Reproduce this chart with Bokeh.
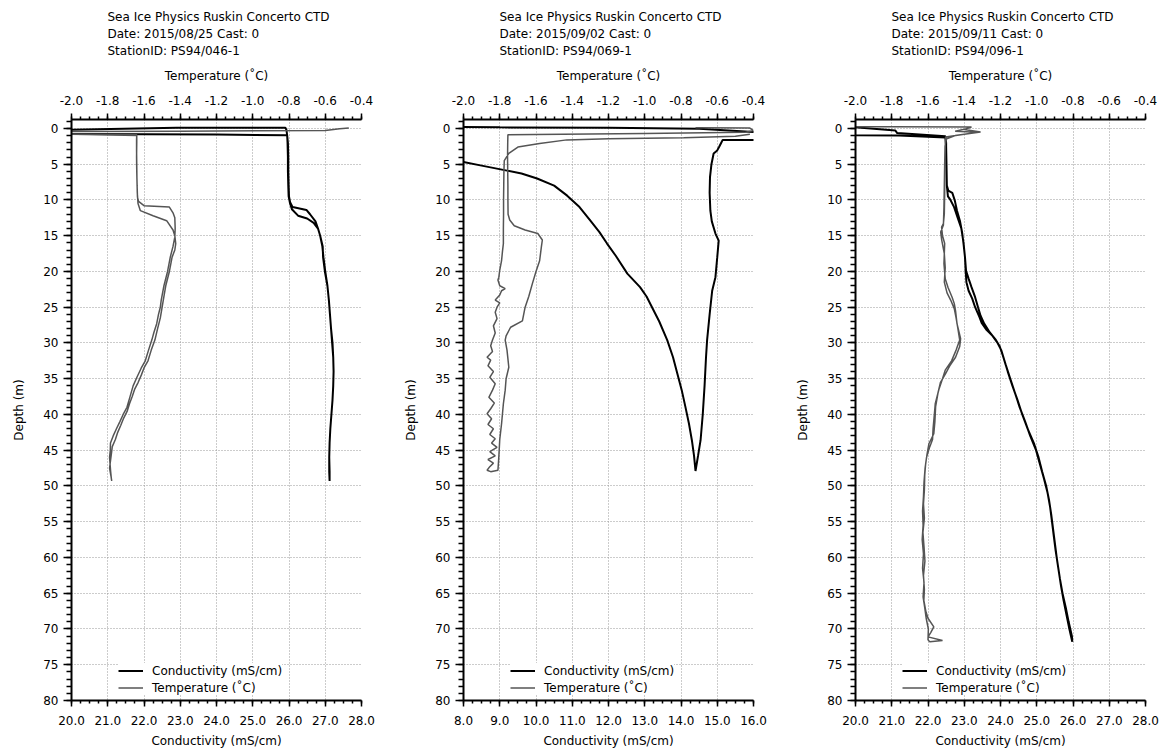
from bokeh.plotting import figure
from bokeh.models import (Range1d, LinearAxis, SingleIntervalTicker, PrintfTickFormatter,
                          Title)
from bokeh.layouts import row
from bokeh.embed import file_html
from bokeh.resources import INLINE

FONT = "DejaVu Sans"

# ---------------- data ----------------
title_line1 = "Sea Ice Physics Ruskin Concerto CTD"
p1_date = "Date: 2015/08/25 Cast: 0"
p1_station = "StationID: PS94/046-1"
p2_date = "Date: 2015/09/02 Cast: 0"
p2_station = "StationID: PS94/069-1"
p3_date = "Date: 2015/09/11 Cast: 0"
p3_station = "StationID: PS94/096-1"

temp_label = "Temperature (\u02daC)"
cond_label = "Conductivity (mS/cm)"
depth_label = "Depth (m)"

p1_cond_range = (20.0, 28.0)
p2_cond_range = (8.0, 16.0)
p3_cond_range = (20.0, 28.0)
temp_range = (-2.0, -0.4)
depth_range = (80.0, -1.25)

# Panel 1 (PS94/046-1)
p1_cond = [19.0, 24.0, 25.95, 25.97, 25.98, 25.98, 25.99, 26.00, 26.03, 26.10, 26.48, 26.58, 26.73, 26.80,
           26.86, 26.92, 26.95, 27.00, 27.06, 27.10, 27.13, 27.16, 27.20, 27.22, 27.23, 27.22, 27.20, 27.17,
           27.14, 27.12, 27.11, 27.12, 27.12,
           27.11, 27.11, 27.12, 27.14, 27.17, 27.20, 27.22, 27.23, 27.22, 27.19, 27.16, 27.13, 27.10, 27.06,
           26.99, 26.94, 26.93, 26.86, 26.80, 26.68, 26.50, 26.25, 26.08, 26.03, 25.99, 25.98, 25.97, 25.97,
           25.96, 25.95, 25.93, 25.90, 22.90, 19.0]
p1_cond_depth = [0.75, 0.85, 0.95, 2, 4, 6, 8, 9.5, 10.3, 11.0, 11.4, 12.0, 13.0, 14.0,
                 15.0, 16.5, 18, 20, 22, 24, 26, 28, 30, 32, 34, 36, 38, 40,
                 42, 44, 46, 48, 49.3,
                 48, 46, 44, 42, 40, 38, 36, 34, 32, 30, 28, 26, 24, 22,
                 20, 18, 16.5, 15, 14, 13.2, 12.6, 12.2, 11.3, 10.5, 9.5, 8, 6, 4,
                 2, 1.0, 0.2, -0.1, -0.1, 0.3]
p1_temp = [-0.47, -0.52, -0.60, -1.40, -2.05, -2.05, -1.64, -1.640, -1.641, -1.640, -1.638, -1.636, -1.630,
           -1.600, -1.46, -1.44, -1.43, -1.428, -1.43, -1.44, -1.455, -1.47, -1.49, -1.505, -1.51, -1.52,
           -1.53, -1.545, -1.557, -1.575, -1.593, -1.615, -1.639, -1.66, -1.677, -1.694, -1.715, -1.733,
           -1.752, -1.77, -1.785, -1.786, -1.79, -1.787, -1.784, -1.78, -1.778,
           -1.783, -1.79, -1.785, -1.78, -1.775, -1.758, -1.745, -1.728, -1.712, -1.692, -1.68, -1.665,
           -1.652, -1.632, -1.615, -1.600, -1.578, -1.56, -1.54, -1.525, -1.51, -1.50, -1.49, -1.48, -1.46,
           -1.445, -1.43, -1.425, -1.43, -1.44, -1.475, -1.55, -1.62, -1.633, -1.637, -1.639, -1.64, -1.641,
           -1.641, -1.64, -1.9, -2.1]
p1_temp_depth = [-0.05, 0.05, 0.3, 0.38, 0.45, 0.75, 0.9, 2, 4, 6, 8, 9.6, 10.2,
                 10.8, 11.0, 11.8, 12.5, 14, 15.2, 16.5, 18, 20, 22, 24, 25, 26,
                 27.3, 28.5, 29.6, 31, 32.5, 33.5, 34.8, 36, 37.5, 39, 40, 41,
                 42, 43, 44, 45, 46, 47, 48, 49, 49.3,
                 48.5, 47.5, 46.5, 45.5, 44.5, 43.5, 42.5, 41.5, 40.5, 39.5, 38.5, 37.5,
                 36.5, 35.5, 34.5, 33.5, 32.5, 31, 29.6, 28, 26.5, 25, 23.5, 22, 20,
                 18, 17, 16.1, 15, 14.2, 12.9, 12.2, 11.5, 10.5, 9, 7, 5, 3,
                 1.5, 1.0, 0.85, 0.8]

# Panel 2 (PS94/069-1)
p2_cond = [16.6, 16.0, 14.5, 12.0, 9.0, 7.6, 7.6, 8.0, 8.5, 9.2, 9.6, 10.03, 10.5, 10.86, 11.2, 11.5,
           11.75, 11.96, 12.2, 12.52, 12.87, 13.05, 13.2, 13.4, 13.62, 13.78, 13.9, 14.02, 14.12, 14.22,
           14.3, 14.36, 14.4,
           14.47, 14.54, 14.6, 14.65, 14.69, 14.72, 14.79, 14.86, 14.95, 15.0, 15.04, 14.95, 14.85, 14.81,
           14.79, 14.8, 14.84, 14.9, 15.0, 15.05, 15.1, 15.15, 15.96, 16.5]
p2_cond_depth = [0.8, 0.5, 0.05, -0.1, -0.15, -0.2, 4.4, 4.7, 5.2, 5.9, 6.3, 7.0, 8.0, 9.4, 11.0, 12.9,
                 14.5, 16.1, 17.8, 20.3, 22.2, 23.5, 25.0, 27.0, 29.6, 32.0, 34.3, 36.6, 38.9, 41.3,
                 43.6, 45.8, 47.9,
                 45.8, 43.6, 40.0, 36.0, 32.0, 29.6, 26.0, 22.7, 20.8, 18.0, 15.7, 14.7, 13.0, 11.5,
                 9.0, 6.8, 5.0, 3.5, 3.07, 2.6, 2.1, 1.6, 1.6, 1.6]
p2_temp = [-0.72, -0.42, -0.40, -0.45, -1.0, -1.755, -1.756, -1.757, -1.756, -1.755, -1.755, -1.754,
           -1.745, -1.72, -1.66, -1.59, -1.565, -1.57, -1.58, -1.60, -1.62, -1.64, -1.66, -1.675, -1.74,
           -1.765, -1.77, -1.76, -1.75, -1.765, -1.77, -1.78, -1.79, -1.80, -1.805, -1.81,
           -1.85, -1.87, -1.855, -1.835, -1.865, -1.825, -1.855, -1.815, -1.845, -1.825, -1.855, -1.835,
           -1.865, -1.845, -1.87, -1.85, -1.83, -1.86, -1.84, -1.825, -1.855, -1.835, -1.865, -1.85,
           -1.87, -1.84, -1.85, -1.84, -1.825, -1.835, -1.815, -1.825, -1.815, -1.80, -1.825, -1.80,
           -1.79, -1.77, -1.80, -1.81, -1.805, -1.80, -1.79, -1.785, -1.78, -1.78, -1.779, -1.779,
           -1.778, -1.777, -1.775, -1.75, -1.70, -1.58, -1.43, -1.2, -0.785, -0.5, -0.42]
p2_temp_depth = [-0.1, -0.05, 0.3, 0.55, 0.7, 0.9, 2, 4, 6, 8, 10, 12.0,
                 12.8, 13.6, 14.2, 14.7, 15.6, 16.5, 18.5, 20.0, 21.7, 23.5, 25.0, 26.9, 27.8,
                 29.0, 29.6, 31, 33.4, 35, 36.6, 38.5, 41.3, 43.5, 45.9, 47.8,
                 48.0, 47.8, 47.3, 46.8, 46.3, 45.8, 45.2, 44.6, 44.0, 43.4, 42.8, 42.0,
                 41.4, 40.6, 39.9, 39.2, 38.4, 37.6, 36.6, 35.7, 34.8, 34.0, 33.2, 32.4,
                 32.0, 31.2, 30.4, 29.6, 28.6, 27.6, 26.6, 25.7, 25.0, 24.4, 24.0, 23.3,
                 22.7, 22.4, 22.0, 21.2, 20.8, 19.8, 18.5, 17.2, 16.1, 14, 12, 10,
                 8, 6, 4.5, 3.5, 2.6, 2.1, 1.6, 1.45, 1.3, 1.1, 0.8]

# Panel 3 (PS94/096-1)
p3_cond = [19.5, 21.1, 21.15, 22.48, 22.50, 22.50, 22.51, 22.52, 22.56, 22.67, 22.74, 22.80, 22.88,
           22.94, 22.98, 23.02, 23.05, 23.12, 23.20, 23.30, 23.38, 23.45, 23.55, 23.70, 23.86, 23.98,
           24.08, 24.20, 24.33, 24.47, 24.60, 24.75, 24.92, 25.05, 25.15, 25.26, 25.34, 25.40, 25.45,
           25.50, 25.55, 25.61, 25.67, 25.74, 25.82, 25.90, 25.98,
           25.97, 25.88, 25.80, 25.71, 25.64, 25.58, 25.52, 25.47, 25.42, 25.37, 25.30, 25.20, 25.09,
           24.98, 24.82, 24.68, 24.53, 24.40, 24.27, 24.14, 24.02, 23.92, 23.78, 23.62, 23.48, 23.42,
           23.30, 23.22, 23.12, 23.06, 23.04, 23.02, 22.98, 22.92, 22.82, 22.72, 22.62, 22.55, 22.52,
           22.51, 22.50, 22.48, 21.2, 20.0, 19.5]
p3_cond_depth = [-0.35, 0.28, 0.65, 1.1, 2, 4, 6, 8, 8.7, 9.0, 10.1, 11.5, 12.9,
                 14.5, 16.1, 18.0, 19.9, 21.0, 22.2, 23.6, 25.0, 26.2, 27.3, 28.5, 29.5, 30.5,
                 32.0, 34.0, 36.0, 38.0, 40.0, 42.0, 44.0, 46.0, 48.0, 50.0, 52.0, 54.0, 56.0,
                 58.0, 60.0, 62.0, 64.0, 66.0, 68.0, 70.0, 71.8,
                 71.0, 69.0, 67.0, 65.0, 63.0, 61.0, 59.0, 57.0, 55.0, 53.0, 51.0, 49.0, 47.0,
                 45.0, 43.0, 41.0, 39.0, 37.0, 35.0, 33.0, 31.0, 30.0, 29.0, 28.2, 27.2, 26.4,
                 25.0, 23.8, 22.7, 21.5, 20.0, 18.0, 16.0, 14.0, 12.5, 11.0, 10.0, 9.5, 8.0,
                 5.0, 2.5, 1.25, 1.0, 0.95, 0.9]
p3_temp = [-2.10, -1.80, -1.36, -1.40, -1.31, -1.40, -1.503, -1.505, -1.507, -1.508, -1.51, -1.515,
           -1.525, -1.52, -1.508, -1.512, -1.505, -1.49, -1.467, -1.455, -1.448, -1.44, -1.42, -1.425,
           -1.448, -1.48, -1.503, -1.531, -1.545, -1.558, -1.562, -1.568, -1.595, -1.605, -1.613, -1.618,
           -1.62, -1.625, -1.62, -1.628, -1.622, -1.617, -1.625, -1.62, -1.623, -1.612, -1.60, -1.568,
           -1.585, -1.60, -1.52, -1.59,
           -1.60, -1.598, -1.61, -1.618, -1.627, -1.622, -1.63, -1.625, -1.632, -1.627, -1.63, -1.625,
           -1.622, -1.616, -1.608, -1.59, -1.575, -1.572, -1.565, -1.56, -1.54, -1.52, -1.505, -1.47,
           -1.445, -1.425, -1.435, -1.445, -1.455, -1.475, -1.495, -1.51, -1.505, -1.51, -1.525, -1.53,
           -1.515, -1.512, -1.51, -1.508, -1.506, -1.50, -1.45, -1.33, -1.45, -1.40]
p3_temp_depth = [-0.25, -0.22, -0.2, 0.15, 0.5, 0.8, 1.2, 3, 6, 9, 12, 13.3,
                 13.8, 15.0, 16.1, 18.9, 21.0, 22.2, 23.6, 24.5, 25.5, 27.3, 29.4, 30.5,
                 32.0, 33.2, 34.3, 35.5, 37.0, 38.9, 41.0, 42.7, 44.1, 45.5, 46.9, 48.5,
                 50.6, 52.5, 54.5, 56.5, 58.5, 60.5, 62.5, 64.5, 66.0, 67.5, 68.5, 69.7,
                 70.5, 71.1, 71.6, 71.8,
                 71.5, 70.0, 68.5, 67.0, 65.5, 63.5, 61.5, 59.5, 57.5, 55.5, 53.5, 51.5,
                 49.5, 47.5, 46.0, 44.5, 43.5, 42.0, 40.0, 38.5, 36.5, 35.0, 33.8, 32.5,
                 31.0, 29.6, 28.0, 26.5, 25.2, 24.0, 23.0, 21.5, 19.5, 17.5, 15.5, 14.5,
                 13.5, 11.0, 8.0, 5.0, 2.5, 1.5, 1.0, 0.55, 0.4, 0.1]

COND_COLOR = "#000000"
TEMP_COLOR = "#555555"
GRID_COLOR = "#999999"


def style_axis(ax, tick_out, minor_out):
    ax.axis_line_width = 2
    ax.axis_line_color = "black"
    ax.major_tick_line_width = 1.5
    ax.minor_tick_line_width = 1.5
    ax.major_tick_line_color = "black"
    ax.minor_tick_line_color = "black"
    ax.major_tick_in = 0
    ax.minor_tick_in = 0
    ax.major_tick_out = tick_out
    ax.minor_tick_out = minor_out
    ax.major_label_text_font = FONT
    ax.major_label_text_font_size = "12px"
    ax.major_label_text_color = "black"
    ax.axis_label_text_font = FONT
    ax.axis_label_text_font_size = "12px"
    ax.axis_label_text_font_style = "normal"
    ax.axis_label_text_color = "black"


def make_panel(date_txt, station_txt, cond_range, cond, cond_depth, temp, temp_depth,
               width, border_left, border_right):
    p = figure(width=width, height=751, x_range=Range1d(*cond_range), y_range=Range1d(*depth_range),
               output_backend="svg", toolbar_location=None, title=None,
               min_border_left=border_left, min_border_right=border_right,
               min_border_top=119, min_border_bottom=51)
    p.outline_line_color = None
    p.background_fill_color = "white"
    p.border_fill_color = "white"

    p.extra_x_ranges = {"temp": Range1d(*temp_range)}

    # bottom (conductivity) axis
    xa = p.xaxis[0]
    xa.ticker = SingleIntervalTicker(interval=1.0, num_minor_ticks=4)
    xa.formatter = PrintfTickFormatter(format="%.1f")
    xa.axis_label = cond_label
    style_axis(xa, 6, 3)
    xa.major_label_standoff = 9
    xa.axis_label_standoff = 6

    # left (depth) axis
    ya = p.yaxis[0]
    ya.ticker = SingleIntervalTicker(interval=5, num_minor_ticks=5)
    ya.axis_label = depth_label
    style_axis(ya, 8, 5)
    ya.major_label_standoff = 5
    ya.axis_label_standoff = 14

    # top (temperature) axis
    ta = LinearAxis(x_range_name="temp", axis_label=temp_label,
                    ticker=SingleIntervalTicker(interval=0.2, num_minor_ticks=4),
                    formatter=PrintfTickFormatter(format="%.1f"))
    style_axis(ta, 6, 3)
    ta.major_label_standoff = 9
    ta.axis_label_standoff = 10
    p.add_layout(ta, "above")

    # small spacer between the temperature axis and the title block
    p.add_layout(Title(text=" ", text_font=FONT, text_font_size="4px", standoff=0), "above")
    for txt in (station_txt, date_txt, title_line1):
        p.add_layout(Title(text=txt, align="left", offset=36, standoff=1,
                           text_font=FONT, text_font_size="12px", text_font_style="normal",
                           text_color="black"), "above")

    # grids
    p.xgrid.ticker = SingleIntervalTicker(interval=1.0)
    p.ygrid.ticker = SingleIntervalTicker(interval=5)
    for g in (p.xgrid[0], p.ygrid[0]):
        g.grid_line_color = GRID_COLOR
        g.grid_line_dash = "1 2"
        g.grid_line_width = 1

    p.line(cond, cond_depth, line_color=COND_COLOR, line_width=2, legend_label=cond_label)
    p.line(temp, temp_depth, x_range_name="temp", line_color=TEMP_COLOR, line_width=1.5,
           legend_label=temp_label)

    lg = p.legend[0]
    lg.location = (47, 5)
    lg.border_line_color = None
    lg.background_fill_color = "white"
    lg.background_fill_alpha = 1.0
    lg.padding = 2
    lg.margin = 0
    lg.spacing = 2
    lg.label_height = 15
    lg.glyph_height = 15
    lg.glyph_width = 25
    lg.label_standoff = 9
    lg.label_text_font = FONT
    lg.label_text_font_size = "12px"
    lg.label_text_color = "black"
    return p


p1 = make_panel(p1_date, p1_station, p1_cond_range, p1_cond, p1_cond_depth, p1_temp, p1_temp_depth,
                392, 71, 31)
p2 = make_panel(p2_date, p2_station, p2_cond_range, p2_cond, p2_cond_depth, p2_temp, p2_temp_depth,
                392, 71, 31)
p3 = make_panel(p3_date, p3_station, p3_cond_range, p3_cond, p3_cond_depth, p3_temp, p3_temp_depth,
                381, 71, 20)

layout = row(p1, p2, p3)
open("out.html", "w").write(file_html(layout, INLINE))
